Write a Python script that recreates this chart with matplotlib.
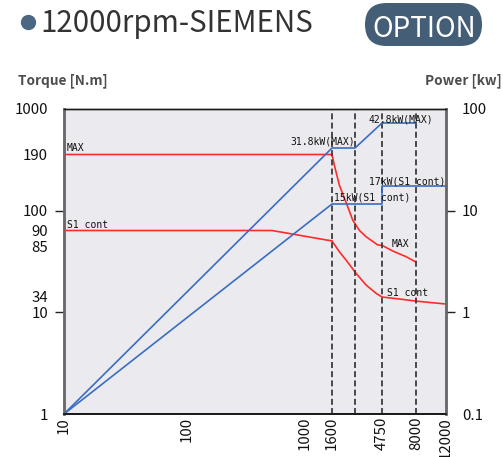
import numpy as np
import matplotlib
matplotlib.use("Agg")
import matplotlib.pyplot as plt
from matplotlib.ticker import FixedLocator, FixedFormatter, NullLocator
from matplotlib.patches import FancyBboxPatch
from matplotlib.lines import Line2D
from matplotlib.transforms import IdentityTransform

# ---------------- data ----------------
x_ticks = [10, 100, 1000, 1600, 4750, 8000, 12000]
x_tick_labels = ["10", "100", "1000", "1600", "4750", "8000", "12000"]
dashed_rpm = [1600, 2640, 4750, 8000]

torque_ticks_major = [10, 100]
torque_ticks_minor = [1, 34, 85, 90, 190, 1000]
power_ticks_major = [1, 10]
power_ticks_minor = [0.1, 100]

rpm_max_t = [10, 1600, 1682, 1876, 2092, 2252, 2511, 2899, 3354, 4326, 4750, 5598, 6864, 8000]
torque_max = [190, 190, 168.7, 134.4, 115.9, 105, 95.2, 90.1, 88.1, 85.6, 85.5, 79.0, 71.2, 64.5]

rpm_s1_t = [10, 525, 1600, 1876, 2170, 2698, 3354, 4169, 4750, 6194, 8000, 9667, 12000]
torque_s1 = [90, 90, 86.8, 78.0, 67.0, 52.5, 42.4, 36.4, 34, 28.9, 24.3, 21.7, 19.2]

rpm_max_p = [10, 1600, 2640, 4750, 8000]
power_max = [0.1, 31.8, 31.8, 42.8, 42.8]
rpm_s1_p = [10, 1600, 4750, 4750, 12000]
power_s1 = [0.1, 15, 15, 17, 17]

# ------------- schematic (piecewise log) scales -------------
x_nodes = [10, 100, 1000, 1600, 4750, 8000, 12000]
x_node_pos = [0, 123, 241, 268, 318, 352, 382]
t_nodes = [1, 10, 34, 85, 90, 100, 190, 1000]
t_node_pos = [0, 102, 117, 167, 183.5, 203, 259.5, 305]
p_nodes = [0.1, 1, 10, 15, 17, 31.8, 42.8, 100]
p_node_pos = [0, 102, 203, 210, 228, 266, 291, 305]


def interp_ext(x, xp, fp):
    x = np.asarray(x, float)
    xp = np.asarray(xp, float)
    fp = np.asarray(fp, float)
    y = np.interp(x, xp, fp)
    lo = x < xp[0]
    hi = x > xp[-1]
    y = np.where(lo, fp[0] + (x - xp[0]) * (fp[1] - fp[0]) / (xp[1] - xp[0]), y)
    y = np.where(hi, fp[-1] + (x - xp[-1]) * (fp[-1] - fp[-2]) / (xp[-1] - xp[-2]), y)
    return y


def make_scale(vals, pos):
    lv = np.log10(np.asarray(vals, float))
    pos = np.asarray(pos, float)

    def fwd(v):
        v = np.asarray(v, float)
        with np.errstate(divide="ignore", invalid="ignore"):
            l = np.log10(np.where(v > 0, v, np.nan))
        return interp_ext(l, lv, pos)

    def inv(p):
        return 10 ** interp_ext(p, pos, lv)

    return fwd, inv


# ---------------- figure ----------------
fig = plt.figure(figsize=(5.03, 4.57), dpi=100)
fig.patch.set_facecolor("white")
W, H = 503, 457
ax = fig.add_axes([64 / W, 43 / H, 382 / W, 305 / H])
ax.set_facecolor("#ebebef")

ax.set_xscale("function", functions=make_scale(x_nodes, x_node_pos))
ax.set_yscale("function", functions=make_scale(t_nodes, t_node_pos))
ax.set_xlim(10, 12000)
ax.set_ylim(1, 1000)

ax2 = ax.twinx()
ax2.set_yscale("function", functions=make_scale(p_nodes, p_node_pos))
ax2.set_ylim(0.1, 100)

cjk = ["Noto Sans CJK JP", "DejaVu Sans"]
tick_font = dict(family=cjk, size=10.8)
small_font = dict(family=["DejaVu Sans Mono"], size=7)
red = "#ff2a2a"
blue = "#3b6cc4"

# dashed verticals
for r in dashed_rpm:
    ax.axvline(r, color="#3c3c3c", lw=1.3, ls=(0, (3.3, 1.8)), zorder=3)

# torque curves
ax.plot(rpm_max_t, torque_max, color=red, lw=1.2, zorder=2)
ax.plot(rpm_s1_t, torque_s1, color=red, lw=1.2, zorder=2)

# power curves
ax2.plot(rpm_max_p, power_max, color=blue, lw=1.2, zorder=2)
ax2.plot(rpm_s1_p, power_s1, color=blue, lw=1.2, zorder=2)

# x ticks
ax.xaxis.set_major_locator(FixedLocator(x_ticks))
ax.xaxis.set_major_formatter(FixedFormatter(x_tick_labels))
ax.xaxis.set_minor_locator(NullLocator())
ax.tick_params(axis="x", which="major", length=0, pad=2)
for lab in ax.get_xticklabels():
    lab.set_rotation(90)
    lab.set_fontfamily(tick_font["family"])
    lab.set_fontsize(tick_font["size"])
    lab.set_color("#111111")

# left y ticks
ax.yaxis.set_major_locator(FixedLocator(torque_ticks_major))
ax.yaxis.set_major_formatter(FixedFormatter([str(v) for v in torque_ticks_major]))
ax.yaxis.set_minor_locator(FixedLocator(torque_ticks_minor))
ax.yaxis.set_minor_formatter(FixedFormatter([str(v) for v in torque_ticks_minor]))
ax.tick_params(axis="y", which="major", length=6.5, width=1.0, pad=5, color="#222222")
ax.tick_params(axis="y", which="minor", length=0, pad=11.5)
for lab in ax.get_yticklabels(which="both"):
    lab.set_fontfamily(tick_font["family"])
    lab.set_fontsize(tick_font["size"])
    lab.set_color("#111111")

# right y ticks
ax2.yaxis.set_major_locator(FixedLocator(power_ticks_major))
ax2.yaxis.set_major_formatter(FixedFormatter([str(v) for v in power_ticks_major]))
ax2.yaxis.set_minor_locator(FixedLocator(power_ticks_minor))
ax2.yaxis.set_minor_formatter(FixedFormatter([str(v) for v in power_ticks_minor]))
ax2.tick_params(axis="y", which="major", length=6.5, width=1.0, pad=5, color="#222222")
ax2.tick_params(axis="y", which="minor", length=0, pad=11.5)
for lab in ax2.get_yticklabels(which="both"):
    lab.set_fontfamily(tick_font["family"])
    lab.set_fontsize(tick_font["size"])
    lab.set_color("#111111")

# spines
for a in (ax, ax2):
    a.spines["left"].set_color("#6a6a6a")
    a.spines["left"].set_linewidth(1.8)
    a.spines["right"].set_color("#6a6a6a")
    a.spines["right"].set_linewidth(1.8)
    a.spines["top"].set_color("#1a1a1a")
    a.spines["top"].set_linewidth(1.0)
    a.spines["bottom"].set_color("#1a1a1a")
    a.spines["bottom"].set_linewidth(1.3)

# in-plot labels (axes fraction positions)
def atext(x_px, y_px, s, ha="left"):
    ax2.text((x_px - 64) / 382, (414 - y_px) / 305, s, transform=ax2.transAxes,
             ha=ha, va="baseline", color="#111111", **small_font)

atext(66.5, 151, "MAX")
atext(67, 228, "S1 cont")
atext(355, 145, "31.8kW(MAX)", ha="right")
atext(369, 122, "42.8kW(MAX)")
atext(369, 184, "17kW(S1 cont)")
atext(334, 201, "15kW(S1 cont)")
atext(392, 247, "MAX")
atext(387, 296, "S1 cont")

# axis titles
fig.text(18 / W, (457 - 84) / H, "Torque [N.m]", family=cjk, weight="bold",
         size=9.8, color="#4d4d4d", ha="left", va="baseline")
fig.text(502 / W, (457 - 84) / H, "Power [kw]", family=cjk, weight="bold",
         size=9.8, color="#4d4d4d", ha="right", va="baseline")

# header
fig.add_artist(Line2D([28 / W], [(457 - 21.5) / H], marker="o", markersize=10,
                      color="#4a6882", transform=fig.transFigure))
fig.text(40 / W, (457 - 32) / H, "12000rpm-SIEMENS", family=cjk, size=21.2,
         color="#333333", ha="left", va="baseline")
badge = FancyBboxPatch((365, 457 - 46), 117, 43,
                       boxstyle="round,pad=0,rounding_size=21.5",
                       transform=IdentityTransform(), facecolor="#455e77",
                       edgecolor="none")
fig.add_artist(badge)
fig.text(424 / W, (457 - 37) / H, "OPTION", family=cjk, size=20,
         color="white", ha="center", va="baseline")

fig.savefig("out.png", dpi=100)
